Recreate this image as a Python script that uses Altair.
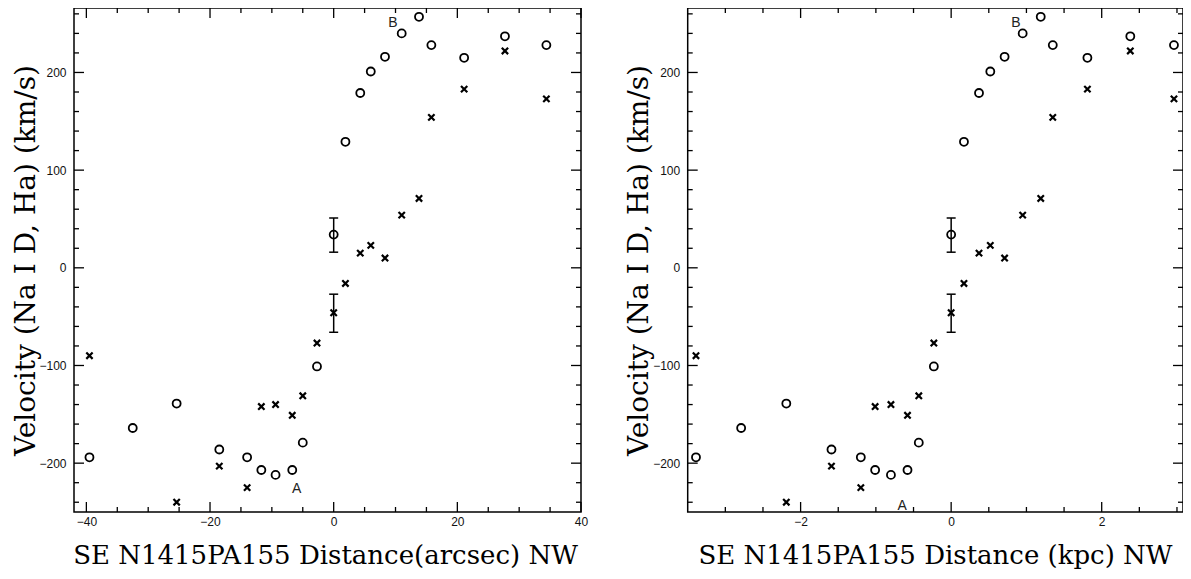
import altair as alt
import pandas as pd

# ---------------- data ----------------
# left panel (arcsec)
arc_circle_x = [-39.5, -32.5, -25.4, -18.5, -14.0, -11.7, -9.4, -6.7, -5.0, -2.7, 0.0,
                1.9, 4.3, 6.0, 8.3, 11.0, 13.8, 15.8, 21.1, 27.7, 34.4]
arc_cross_x = [-39.5, -25.4, -18.5, -14.0, -11.7, -9.4, -6.7, -5.0, -2.7, 0.0,
               1.9, 4.3, 6.0, 8.3, 11.0, 13.8, 15.8, 21.1, 27.7, 34.4]
# right panel (kpc)
kpc_circle_x = [-3.39, -2.79, -2.19, -1.59, -1.20, -1.01, -0.80, -0.58, -0.43, -0.23, 0.0,
                0.17, 0.37, 0.52, 0.71, 0.95, 1.19, 1.35, 1.81, 2.38, 2.96]
kpc_cross_x = [-3.39, -2.19, -1.59, -1.20, -1.01, -0.80, -0.58, -0.43, -0.23, 0.0,
               0.17, 0.37, 0.52, 0.71, 0.95, 1.19, 1.35, 1.81, 2.38, 2.96]
# velocities (same in both panels)
circle_v = [-194, -164, -139, -186, -194, -207, -212, -207, -179, -101, 34,
            129, 179, 201, 216, 240, 257, 228, 215, 237, 228]
cross_v = [-90, -240, -203, -225, -142, -140, -151, -131, -77, -46,
           -16, 15, 23, 10, 54, 71, 154, 183, 222, 173]
# error bars at the centre
err_x = [0, 0]
err_lo = [16, -66]
err_hi = [51, -27]
# annotations
arc_label_x = [9.6, -6.0]
kpc_label_x = [0.86, -0.65]
arc_label_v = [251, -226]
kpc_label_v = [251, -244]
label_text = ["B", "A"]

# ticks / axes
arc_major = [-40, -20, 0, 20, 40]
arc_minor = [-35, -30, -25, -15, -10, -5, 5, 10, 15, 25, 30, 35]
kpc_major = [-2, 0, 2]
kpc_minor = [-3.0, -2.5, -1.5, -1.0, -0.5, 0.5, 1.0, 1.5, 2.5, 3.0]
v_major = [-200, -100, 0, 100, 200]
v_minor = [-240, -220, -180, -160, -140, -120, -80, -60, -40, -20,
           20, 40, 60, 80, 120, 140, 160, 180, 220, 240, 260]

arc_domain = [-42, 40]
kpc_domain = [-3.5, 3.08]
v_domain = [-250, 266]

# layout (pixels)
H = 504
PLOT_W = 1109
LEFT_RANGE = [0, 507]
RIGHT_RANGE = [613.7, 1109]

TITLE_FONT = "DejaVu Serif"
LABEL_FONT = "Liberation Sans"
YTITLE = "Velocity (Na I D, Ha) (km/s)"


def panel_layers(cx, xx, lx, lv, xdom, xrange, xmaj, xmin, xtitle, title_x, y_off):
    xs = alt.Scale(domain=xdom, range=xrange, nice=False, zero=False)
    ys = alt.Scale(domain=v_domain, nice=False, zero=False)
    xaxis = alt.Axis(orient="bottom", values=xmaj, title=xtitle, ticks=False, domain=False,
                     grid=False, labelFlush=False, labelFont=LABEL_FONT, labelFontSize=12,
                     labelColor="#111", labelPadding=4.5, format="d",
                     titleFont=TITLE_FONT, titleFontSize=26, titleFontWeight="normal",
                     titleColor="black", titleX=title_x, titleY=51,
                     titleBaseline="alphabetic", titleAlign="center", titleAngle=0)
    yaxis = alt.Axis(orient="left", offset=y_off, values=v_major, title=YTITLE, ticks=False,
                     domain=False, grid=False, labelFlush=False,
                     labelFont=LABEL_FONT, labelFontSize=12, labelColor="#111",
                     labelPadding=8, format="d",
                     titleFont=TITLE_FONT, titleFontSize=28, titleFontWeight="normal",
                     titleColor="black", titleX=-40, titleY=252, titleAngle=270,
                     titleBaseline="alphabetic", titleAlign="center")

    def X(field, axis=None):
        return alt.X(field, scale=xs, axis=axis)

    def Y(field, axis=None):
        return alt.Y(field, scale=ys, axis=axis)

    dfc = pd.DataFrame({"x": cx, "v": circle_v})
    dfx = pd.DataFrame({"x": xx, "v": cross_v})
    dfe = pd.DataFrame({"x": err_x, "lo": err_lo, "hi": err_hi})
    dfl = pd.DataFrame({"x": lx, "v": lv, "lab": label_text})
    dff = pd.DataFrame({"x0": [xdom[0]], "x1": [xdom[1]],
                        "y0": [v_domain[0]], "y1": [v_domain[1]]})

    layers = []
    # inward tick marks on all four sides
    for vals, ln in ((xmaj, 10), (xmin, 5)):
        df = pd.DataFrame({"tx": vals})
        for y0, y1 in ((H, H - ln), (0, ln)):
            layers.append(alt.Chart(df).mark_rule(color="black", strokeWidth=1.3).encode(
                x=X("tx:Q"), y=alt.value(y0), y2=alt.value(y1)))
    for vals, ln in ((v_major, 10), (v_minor, 5)):
        df = pd.DataFrame({"ty": vals})
        for x0, x1 in ((xrange[0], xrange[0] + ln), (xrange[1], xrange[1] - ln)):
            layers.append(alt.Chart(df).mark_rule(color="black", strokeWidth=1.3).encode(
                y=Y("ty:Q"), x=alt.value(x0), x2=alt.value(x1)))
    # frame
    layers.append(alt.Chart(dff).mark_rect(filled=False, color="black", strokeWidth=1.5,
                                           opacity=1).encode(
        x=X("x0:Q"), x2="x1:Q", y=Y("y0:Q"), y2="y1:Q"))
    # circles carry the axes of this panel
    layers.append(alt.Chart(dfc).mark_point(shape="circle", filled=False, size=64,
                                            strokeWidth=1.8, color="black", opacity=1).encode(
        x=X("x:Q", xaxis), y=Y("v:Q", yaxis)))
    layers.append(alt.Chart(dfx).mark_point(shape="M-1,-1L1,1M-1,1L1,-1", filled=False, size=40,
                                            strokeWidth=2.2, color="black", opacity=1).encode(
        x=X("x:Q"), y=Y("v:Q")))
    layers.append(alt.Chart(dfe).mark_rule(color="black", strokeWidth=1.5).encode(
        x=X("x:Q"), y=Y("lo:Q"), y2="hi:Q"))
    for col in ("lo", "hi"):
        layers.append(alt.Chart(dfe).mark_tick(orient="horizontal", size=9, thickness=1.5,
                                               color="black", opacity=1).encode(
            x=X("x:Q"), y=Y(col + ":Q")))
    layers.append(alt.Chart(dfl).mark_text(font=LABEL_FONT, fontSize=14, color="#222").encode(
        x=X("x:Q"), y=Y("v:Q"), text="lab:N"))
    return layers


left_layers = panel_layers(arc_circle_x, arc_cross_x, arc_label_x, arc_label_v, arc_domain,
                           LEFT_RANGE, arc_major, arc_minor,
                           "SE N1415PA155 Distance(arcsec) NW", 251, 0)
right_layers = panel_layers(kpc_circle_x, kpc_cross_x, kpc_label_x, kpc_label_v, kpc_domain,
                            RIGHT_RANGE, kpc_major, kpc_minor,
                            "SE N1415PA155 Distance (kpc) NW", 861, -RIGHT_RANGE[0])

chart = alt.layer(*left_layers, *right_layers).resolve_scale(
    x="independent", y="independent"
).resolve_axis(
    x="independent", y="independent"
).properties(
    width=PLOT_W, height=H,
    autosize=alt.AutoSizeParams(type="none"),
    padding={"left": 66, "top": 0, "right": 0, "bottom": 59},
    background="white",
).configure_view(stroke="transparent")

chart.save("out.html", embed_options={"renderer": "svg", "actions": False})
